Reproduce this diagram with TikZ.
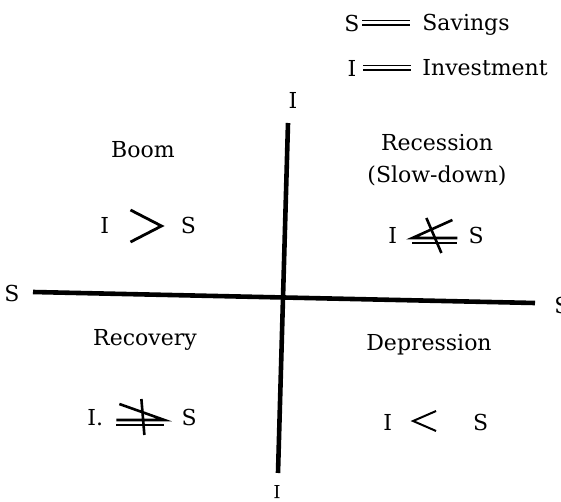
\documentclass[tikz,border=0pt]{standalone}
\usepackage{amsmath,amssymb}
\usepackage{fontspec}
\setmainfont{DejaVu Serif}
\usetikzlibrary{positioning}
\tikzset{
  axis/.style={black, line width=2.3pt},
  lab/.style={font=\fontsize{11}{13}\selectfont, inner sep=1pt},
  rel/.style={font=\fontsize{11}{13}\selectfont, inner sep=0pt, anchor=base west},
}
% hand drawn relation signs, as printed
\newcommand{\longeq}{\tikz[baseline=-0.5ex]{\draw[line width=0.8pt] (0,2.2pt) -- (24pt,2.2pt) (0,0) -- (24pt,0);}}
\newcommand{\bigGt}{\tikz[baseline=0pt, line width=1.4pt]{\draw (0,11.5pt) -- (15.5pt,3.5pt) -- (0,-4.5pt);}}
\newcommand{\bigLt}{\tikz[baseline=0pt, line width=1pt]{\draw (11.5pt,9.5pt) -- (0,4.5pt) -- (11.5pt,-0.5pt);}}
\newcommand{\nleqmark}{\tikz[baseline=0pt, line width=1.3pt]{\draw (20pt,11.5pt) -- (0,2.5pt) -- (22.5pt,2.5pt); \draw (0,0) -- (22.5pt,0); \draw (7pt,12.5pt) -- (14.5pt,-5pt);}}
\newcommand{\ngeqmark}{\tikz[baseline=0pt, line width=1.3pt]{\draw (1.5pt,10.5pt) -- (24pt,2.5pt) -- (0,2.5pt); \draw (0,0) -- (24pt,0); \draw (12.5pt,13pt) -- (14pt,-5pt);}}

\begin{document}
\begin{tikzpicture}[x=0.5pt,y=-0.5pt]
  \path[use as bounding box] (0,0) rectangle (561,502);

  % legend
  \node[lab] (legS) at (352,23) {S};
  \node[lab] (legSeq) at (386,25) {\longeq};
  \node[lab, anchor=base west] (legSav) at (420,31) {Savings};
  \node[lab] (legI) at (352,68) {I};
  \node[lab] (legIeq) at (387,70) {\longeq};
  \node[lab, anchor=base west] (legInv) at (420,76) {Investment};

  % axes
  \node[lab] (Itop) at (293,100) {I};
  \node[lab, rotate=180, font=\fontsize{9}{10}\selectfont] (Ibot) at (277,492) {I};
  \node[lab] (Sleft) at (12,293) {S};
  \node[lab, anchor=west] (Sright) at (552,305) {S};
  \coordinate (vtop) at (288,123);
  \coordinate (vbot) at (278,473);
  \coordinate (hleft) at (33,292);
  \coordinate (hright) at (535,303);
  \draw[axis] (vtop) -- (vbot);
  \draw[axis] (hleft) -- (hright);

  % quadrants
  \node[lab] (boom) at (143,150) {Boom};
  \node[rel] (boomrel) at (100,233) {I\hspace{10pt}\bigGt\hspace{9pt}S};
  \node[lab] (rec) at (437,143) {Recession};
  \node[lab] (slow) at (437,176) {(Slow-down)};
  \node[rel] (recrel) at (388,243) {I\hspace{7pt}\nleqmark\hspace{5pt}S};
  \node[lab] (recov) at (145,340) {Recovery};
  \node[rel] (recovrel) at (87,425) {I.\hspace{6pt}\ngeqmark\hspace{8pt}S};
  \node[lab] (dep) at (429,345) {Depression};
  \node[rel] (deprel) at (383,430) {I\hspace{10pt}\bigLt\hspace{18pt}S};
\end{tikzpicture}
\end{document}
